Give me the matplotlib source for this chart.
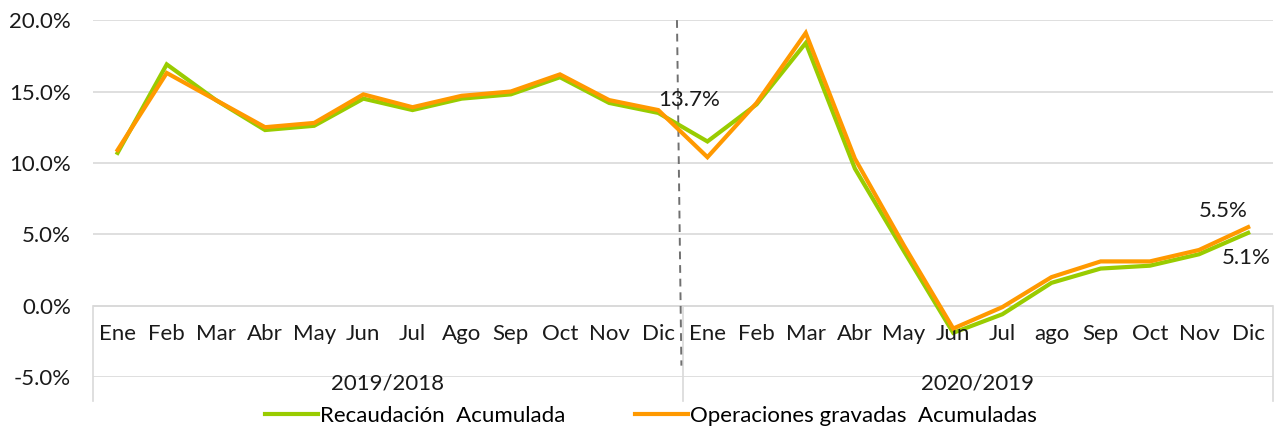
import matplotlib

matplotlib.use("Agg")
import matplotlib.pyplot as plt
from matplotlib.ticker import FuncFormatter

plt.rcParams["font.family"] = ["Lato", "DejaVu Sans"]

# Monthly cumulative growth, two comparison years
months = ["Ene", "Feb", "Mar", "Abr", "May", "Jun", "Jul", "Ago", "Sep", "Oct", "Nov", "Dic",
          "Ene", "Feb", "Mar", "Abr", "May", "Jun", "Jul", "ago", "Sep", "Oct", "Nov", "Dic"]
periods = ["2019/2018", "2020/2019"]
recaudacion = [10.7, 16.9, 14.4, 12.3, 12.6, 14.5, 13.7, 14.5, 14.8, 16.0, 14.2, 13.5,
               11.5, 14.1, 18.4, 9.6, 3.8, -1.9, -0.6, 1.6, 2.6, 2.8, 3.6, 5.1]
operaciones = [10.9, 16.3, 14.4, 12.5, 12.8, 14.8, 13.9, 14.7, 15.0, 16.2, 14.4, 13.7,
               10.4, 14.2, 19.1, 10.3, 4.2, -1.6, -0.1, 2.0, 3.1, 3.1, 3.9, 5.5]

GREEN = "#99CC00"
ORANGE = "#FF9900"
GRID = "#D9D9D9"
TXT = "#1a1a1a"
FS = 16

fig = plt.figure(figsize=(12.74, 4.28), dpi=100, facecolor="white")
ax = fig.add_axes([0.073, 0.119, 0.926, 0.834])

x = list(range(len(months)))
ax.plot(x, recaudacion, color=GREEN, lw=3.0, solid_joinstyle="miter", label="Recaudación  Acumulada", zorder=3)
ax.plot(x, operaciones, color=ORANGE, lw=3.0, solid_joinstyle="miter", label="Operaciones gravadas  Acumuladas", zorder=4)

ax.set_xlim(-0.5, len(months) - 0.5)
ax.set_ylim(-5, 20)
ax.set_yticks([-5, 0, 5, 10, 15, 20])
ax.yaxis.set_major_formatter(FuncFormatter(lambda v, _: f"{v:.1f}%"))
ax.tick_params(axis="y", length=0, pad=16, labelsize=FS, colors=TXT)
ax.set_xticks([])
ax.grid(axis="y", color=GRID, lw=1.2)
for s in ax.spines.values():
    s.set_visible(False)
ax.axhline(0, color=GRID, lw=1.2, zorder=1)

# Two-level category axis below the zero line
n = len(months)
for i, m in enumerate(months):
    ax.text(i, -2.0, m, ha="center", va="center", fontsize=FS, color=TXT)
half = n // len(periods)
for k, p in enumerate(periods):
    ax.text(k * half + (half - 1) / 2, -5.45, p, ha="center", va="center", fontsize=FS, color=TXT,
            clip_on=False)
for xb in (-0.5, half - 0.5, n - 0.5):
    ax.plot([xb, xb], [0, -6.7], color=GRID, lw=1.2, clip_on=False, zorder=1)

# Year break marker
ax.plot([11.38, 11.47], [20, -4.2], color="#707070", lw=1.4, ls=(0, (4, 3)), clip_on=False, zorder=2)

# Value labels
ax.text(11.0, operaciones[11] + 0.7, f"{operaciones[11]:.1f}%", ha="left", va="center", fontsize=FS, color=TXT)
ax.text(n - 1.5, operaciones[-1] + 1.15, f"{operaciones[-1]:.1f}%", ha="center", va="center", fontsize=FS, color=TXT)
ax.text(n - 0.55, recaudacion[-1] - 1.75, f"{recaudacion[-1]:.1f}%", ha="right", va="center", fontsize=FS, color=TXT)

fig.legend(loc="center", bbox_to_anchor=(0.511, 0.028), ncol=2, frameon=False, fontsize=FS,
           handlelength=2.4, handletextpad=0.1, columnspacing=3.1)

fig.savefig("out.png", dpi=100, facecolor="white")
